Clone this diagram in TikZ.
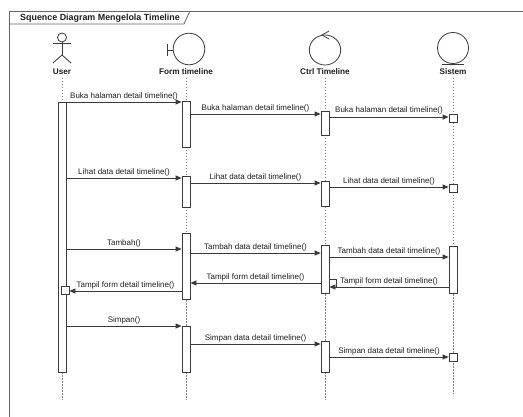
\documentclass[tikz,border=0pt]{standalone}
\usepackage{fontspec}
\setmainfont{Liberation Sans}
\usetikzlibrary{arrows.meta,calc}
\definecolor{lc}{HTML}{3A3A3A}
\definecolor{fc}{HTML}{666666}
\definecolor{dc}{HTML}{808080}
\definecolor{tc}{HTML}{1E1E1E}
\begin{document}
\begin{tikzpicture}[x=1pt,y=-1pt,
  shp/.style={draw=lc,line width=0.8pt},
  frm/.style={draw=fc,line width=0.8pt},
  life/.style={draw=dc,line width=0.8pt,dash pattern=on 1.5pt off 1.5pt},
  bar/.style={draw=lc,fill=white,line width=0.8pt,minimum width=8pt,inner sep=0pt,anchor=north},
  sq/.style={draw=lc,fill=white,line width=0.8pt,minimum width=8pt,minimum height=8pt,inner sep=0pt},
  msg/.style={draw=lc,line width=0.8pt,-{Triangle[length=6pt,width=5pt]}},
  lbl/.style={above,inner sep=1.5pt,font=\fontsize{8}{9}\selectfont,text=tc},
  hdr/.style={font=\bfseries\fontsize{8.2}{9}\selectfont,text=tc,inner sep=0pt},
]
\useasboundingbox (0,0) rectangle (523,417);
\fill[white] (0,0) rectangle (523,417);
% frame
\draw[frm] (523,11) -- (9,11) -- (9,417);
\draw[frm] (9,24) -- (184,24) -- (190,11);
\node[font=\bfseries\fontsize{8.9}{10}\selectfont,text=tc,anchor=west,inner sep=0pt] (title) at (20,18) {Squence Diagram Mengelola Timeline};
% lifelines
\coordinate (uT) at (62,78);  \coordinate (uB) at (62,400);
\coordinate (fT) at (186,78); \coordinate (fB) at (186,400);
\coordinate (cT) at (325,78); \coordinate (cB) at (325,400);
\coordinate (sT) at (453,78); \coordinate (sB) at (453,394);
\draw[life] (uT) -- (uB);
\draw[life] (fT) -- (fB);
\draw[life] (cT) -- (cB);
\draw[life] (sT) -- (sB);
% actor User
\draw[shp] (62,37.5) circle (4.5);
\draw[shp] (62,42) -- (62,55);
\draw[shp] (53,43.5) -- (71,43.5);
\draw[shp] (53,63) -- (62,55) -- (71,63);
\node[hdr] (lu) at (62,72) {User};
% boundary Form timeline
\draw[shp] (189,49) circle (15.8);
\draw[shp] (167,44) -- (167,56);
\draw[shp] (167,50) -- (173.2,50);
\node[hdr] (lf) at (186,72) {Form timeline};
% control Ctrl Timeline
\draw[shp] (325,50) ellipse (15.7 and 15);
\draw[shp] (329,31) -- (322,35) -- (329,39);
\node[hdr] (lc) at (325,72) {Ctrl Timeline};
% entity Sistem
\draw[shp] (453,48) circle (15.5);
\draw[shp] (442,64) -- (464,64);
\node[hdr] (ls) at (453,72) {Sistem};
% activation bars
\node[bar,minimum height=270pt] (ub) at (62,102) {};
\node[bar,minimum height=46pt] (f1) at (186,101) {};
\node[bar,minimum height=31pt] (f2) at (186,176) {};
\node[bar,minimum height=66pt] (f3) at (186,233) {};
\node[bar,minimum height=46pt] (f4) at (186,326) {};
\node[bar,minimum height=24pt] (c1) at (325,111) {};
\node[bar,minimum height=25pt] (c2) at (325,181) {};
\node[bar,minimum height=48pt] (c3) at (325,245) {};
\node[bar,minimum height=31pt] (c4) at (325,341) {};
\node[sq] (s1) at (453,118) {};
\node[sq] (s2) at (453,188) {};
\node[bar,minimum height=47pt] (s3) at (453,246) {};
\node[sq] (s4) at (453,357) {};
\node[sq] (usq) at (65,290) {};
% messages
\draw[msg] (ub.east |- 0,102) -- (f1.west |- 0,102) node[lbl,midway] {Buka halaman detail timeline()};
\draw[msg] (f1.east |- 0,114) -- (c1.west |- 0,114) node[lbl,midway] {Buka halaman detail timeline()};
\draw[msg] (c1.east |- 0,117) -- (s1.west |- 0,117) node[lbl,midway,yshift=1pt] {Buka halaman detail timeline()};
\draw[msg] (ub.east |- 0,178) -- (f2.west |- 0,178) node[lbl,midway] {Lihat data detail timeline()};
\draw[msg] (f2.east |- 0,183) -- (c2.west |- 0,183) node[lbl,midway] {Lihat data detail timeline()};
\draw[msg] (c2.east |- 0,187) -- (s2.west |- 0,187) node[lbl,midway] {Lihat data detail timeline()};
\draw[msg] (ub.east |- 0,249) -- (f3.west |- 0,249) node[lbl,midway] {Tambah()};
\draw[msg] (f3.east |- 0,253) -- (c3.west |- 0,253) node[lbl,midway] {Tambah data detail timeline()};
\draw[msg] (c3.east |- 0,257) -- (s3.west |- 0,257) node[lbl,midway] {Tambah data detail timeline()};
\draw[shp] (c3.east |- 0,279) -- ++(6.5,0) -- ++(0,8);
\draw[msg] (s3.west |- 0,287) -- (c3.east |- 0,287) node[lbl,midway,yshift=-0.5pt] {Tampil form detail timeline()};
\draw[msg] (c3.west |- 0,283) -- (f3.east |- 0,283) node[lbl,midway] {Tampil form detail timeline()};
\draw[msg] (f3.west |- 0,291) -- (usq.east |- 0,291) node[lbl,midway] {Tampil form detail timeline()};
\draw[msg] (ub.east |- 0,326) -- (f4.west |- 0,326) node[lbl,midway] {Simpan()};
\draw[msg] (f4.east |- 0,344) -- (c4.west |- 0,344) node[lbl,midway] {Simpan data detail timeline()};
\draw[msg] (c4.east |- 0,357) -- (s4.west |- 0,357) node[lbl,midway] {Simpan data detail timeline()};
\end{tikzpicture}
\end{document}
